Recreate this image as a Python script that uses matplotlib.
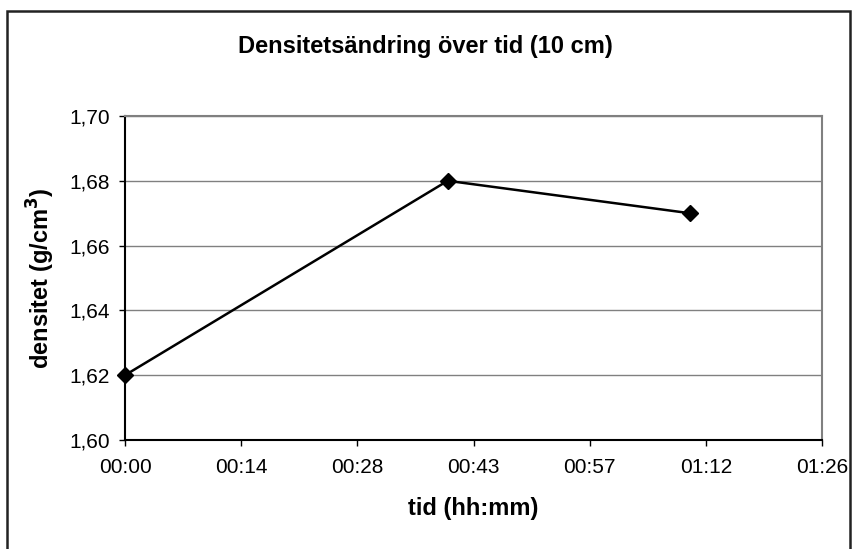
import matplotlib
matplotlib.use("Agg")
import matplotlib.pyplot as plt
from matplotlib.patches import Rectangle

plt.rcParams['font.family'] = ['Liberation Sans', 'DejaVu Sans']

# data: time in minutes, density in g/cm3
tid_min = [0, 40, 70]
densitet = [1.62, 1.68, 1.67]

# Excel-style ticks every 0.01 day (14.4 min)
x_ticks = [0, 14.4, 28.8, 43.2, 57.6, 72.0, 86.4]
x_labels = ["00:00", "00:14", "00:28", "00:43", "00:57", "01:12", "01:26"]
y_ticks = [1.60, 1.62, 1.64, 1.66, 1.68, 1.70]
y_labels = ["1,60", "1,62", "1,64", "1,66", "1,68", "1,70"]

fig = plt.figure(figsize=(8.52, 5.49), dpi=100)
ax = fig.add_axes([125 / 852, 1 - 440 / 549, 697 / 852, 324 / 549])

ax.plot(tid_min, densitet, color="black", linewidth=1.8, marker="D",
        markersize=8.5, zorder=3, clip_on=False)

ax.set_xlim(0, 86.4)
ax.set_ylim(1.60, 1.70)
ax.set_xticks(x_ticks)
ax.set_xticklabels(x_labels)
ax.set_yticks(y_ticks)
ax.set_yticklabels(y_labels)
ax.tick_params(axis="both", labelsize=15, direction="out", length=4, width=1)
ax.tick_params(axis="x", pad=9)
ax.tick_params(axis="y", pad=7)

ax.yaxis.grid(True, color="#808080", linewidth=1)
ax.set_axisbelow(True)
for side in ["top", "right"]:
    ax.spines[side].set_color("#808080")
    ax.spines[side].set_linewidth(1.5)
for side in ["left", "bottom"]:
    ax.spines[side].set_color("black")
    ax.spines[side].set_linewidth(1.5)

ax.set_xlabel("tid (hh:mm)", fontsize=17, fontweight="bold", labelpad=14)
ax.set_ylabel("densitet (g/cm$^\\mathbf{3}$)", fontsize=17, fontweight="bold", labelpad=9)
fig.text(425 / 852, 1 - 47 / 549, "Densitetsändring över tid (10 cm)",
         ha="center", va="center", fontsize=17, fontweight="bold")

# outer chart frame (bottom edge is cut off in the original)
fig.patches.append(Rectangle((6.5 / 852, -0.05), 843.5 / 852, 1.05 - 11 / 549,
                             transform=fig.transFigure, fill=False,
                             edgecolor="#222222", linewidth=1.8))

fig.savefig("out.png", dpi=100)
